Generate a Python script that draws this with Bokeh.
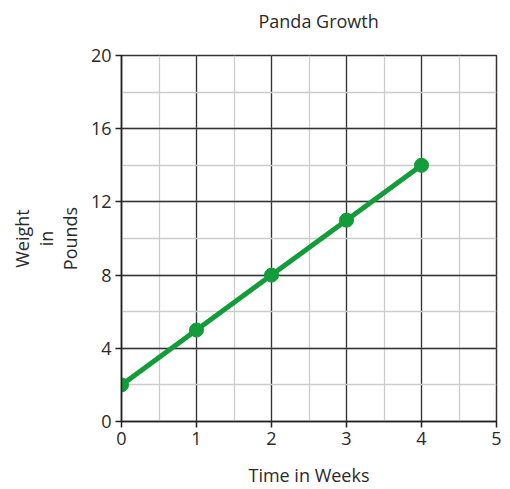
from bokeh.plotting import figure
from bokeh.embed import file_html
from bokeh.resources import INLINE
from bokeh.models import SingleIntervalTicker, Range1d, Title

weeks = [0, 1, 2, 3, 4]
weight = [2, 5, 8, 11, 14]
title_text = "Panda Growth"
x_label = "Time in Weeks"
y_label = "Weight\nin\nPounds"

FONT = "Open Sans"
GREEN = "#129c3a"
TXT = "#2a2a2a"

p = figure(width=510, height=489, output_backend="svg", toolbar_location=None,
           x_range=Range1d(0, 5), y_range=Range1d(0, 20),
           min_border_left=121, min_border_right=14, min_border_top=55, min_border_bottom=67)

p.title.text = ""
# spacer panel between the frame and the title
p.add_layout(Title(text=" ", text_font_size="1px", standoff=20), "above")
p.add_layout(Title(text=title_text, align="left", offset=137, standoff=0,
                   text_font=FONT, text_font_size="18px", text_font_style="normal",
                   text_color=TXT), "above")

p.xaxis.ticker = SingleIntervalTicker(interval=1, num_minor_ticks=2)
p.yaxis.ticker = SingleIntervalTicker(interval=4, num_minor_ticks=2)

for ax in (p.xaxis, p.yaxis):
    ax.major_label_text_font = FONT
    ax.major_label_text_font_size = "18px"
    ax.major_label_text_color = TXT
    ax.axis_label_text_font = FONT
    ax.axis_label_text_font_size = "18px"
    ax.axis_label_text_font_style = "normal"
    ax.axis_label_text_color = TXT
    ax.axis_line_color = "#222222"
    ax.axis_line_width = 1.5
    ax.major_tick_line_color = "#222222"
    ax.major_tick_line_width = 1.5
    ax.major_tick_in = 0
    ax.major_tick_out = 6
    ax.minor_tick_in = 0
    ax.minor_tick_out = 0
    ax.major_label_standoff = 4

p.xaxis.axis_label = x_label
p.xaxis.axis_label_standoff = 15
p.xaxis.axis_label_text_line_height = 0.9
p.yaxis.axis_label = y_label
p.yaxis.axis_label_standoff = 6
p.yaxis.axis_label_text_line_height = 1.0

for g in (p.xgrid, p.ygrid):
    g.grid_line_color = "#333333"
    g.grid_line_width = 1.3
    g.grid_line_alpha = 1
    g.minor_grid_line_color = "#cccccc"
    g.minor_grid_line_width = 1.3

p.outline_line_color = "#333333"
p.outline_line_width = 1.5
p.outline_line_alpha = 1

p.line(weeks, weight, line_color=GREEN, line_width=5)
p.scatter(weeks, weight, size=14, fill_color=GREEN, line_color=GREEN)

open("out.html", "w").write(file_html(p, INLINE))
